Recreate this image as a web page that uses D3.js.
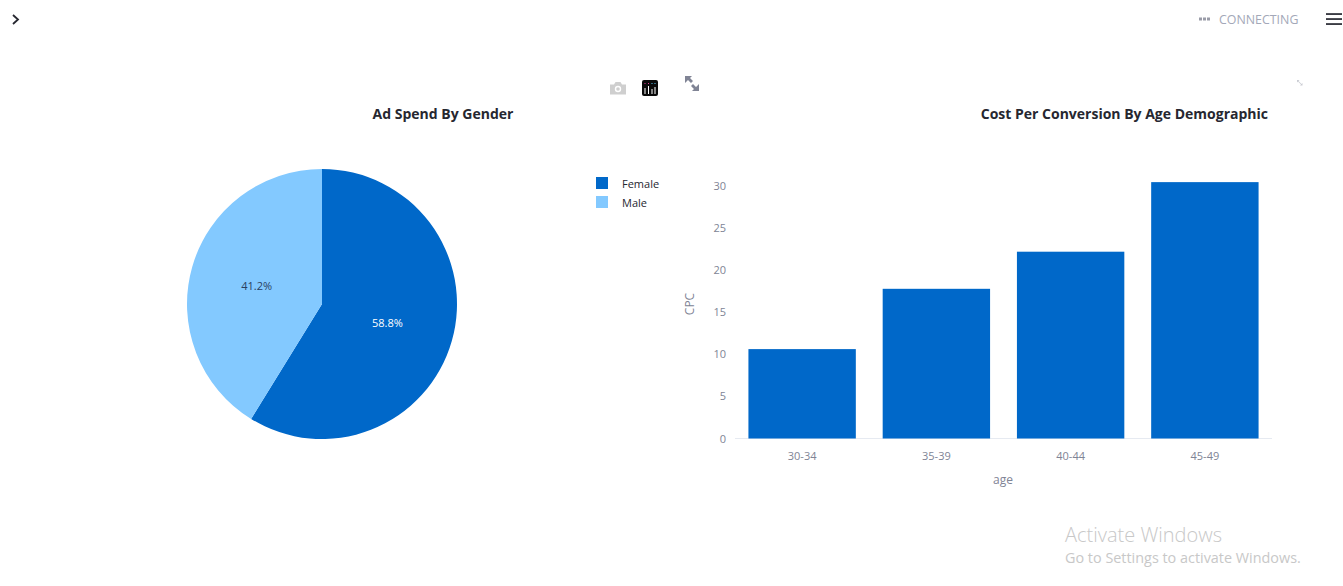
<!DOCTYPE html>
<html>
<head>
<meta charset="utf-8">
<script src="https://cdn.jsdelivr.net/npm/d3@7"></script>
<style>
  html,body{margin:0;padding:0;background:#fff;overflow:hidden}
  text{font-family:"Open Sans",sans-serif}
  .domain{display:none}
</style>
</head>
<body>
<div id="chart"></div>
<script>
// Ad spend pie + cost per conversion bars
const genders = ['Female','Male'];
const genderShare = [58.8,41.2];
const genderColors = ['#0068c9','#83c9ff'];
const ages = ['30-34','35-39','40-44','45-49'];
const cpc = [10.6,17.75,22.15,30.4];
const cpcTicks = [0,5,10,15,20,25,30];

const svg = d3.select('#chart').append('svg').attr('width',1343).attr('height',586).style('display','block');

// top bar bits
svg.append('path').attr('d','M13 15l5 4.5l-5 4.5').attr('fill','none').attr('stroke','#262730').attr('stroke-width',1.8);
[1199,1203,1207].forEach(x=>svg.append('rect').attr('x',x).attr('y',17.5).attr('width',3).attr('height',3).attr('fill','#9a9ca8'));
svg.append('text').attr('x',1219).attr('y',24).attr('font-size',12.4).attr('fill','#a3a8b8').text('CONNECTING');
[14,19,24].forEach(y=>svg.append('rect').attr('x',1326).attr('y',y-0.8).attr('width',16).attr('height',1.7).attr('fill','#262730'));

// toolbar icons
svg.append('path').attr('d','M610 84.5h4l1.5-2.5h5l1.5 2.5h4v10h-16z').attr('fill','#cfcfcf');
svg.append('circle').attr('cx',618).attr('cy',89).attr('r',3.2).attr('fill','#fff');
svg.append('circle').attr('cx',618).attr('cy',89).attr('r',1.8).attr('fill','#cfcfcf');
svg.append('rect').attr('x',642).attr('y',80).attr('width',16).attr('height',16).attr('rx',2).attr('fill','#0a0a0a');
[645,648.5,652,655].forEach((x,i)=>{
  svg.append('rect').attr('x',x-0.5).attr('y',[88,86,89,87][i]).attr('width',1).attr('height',[6,8,5,7][i]).attr('fill','#fff');
  svg.append('rect').attr('x',x-0.5).attr('y',83).attr('width',1).attr('height',1).attr('fill',['#e6399b','#e6399b','#5bc8f5','#5bc8f5'][i]);
});
svg.append('path').attr('d','M685 76h7l-2 2l3 3l-2 2l-3-3l-3 3zM699 91h-7l2-2l-3-3l2-2l3 3l3-3z').attr('fill','#808495');
svg.append('path').attr('d','M1297 80h2.5l-1 1l3 3l1-1v2.5h-2.5l1-1l-3-3l-1 1z').attr('fill','#c9cbd2');

// pie
const pieG = svg.append('g').attr('transform','translate(322,304)');
const pieData = d3.pie().sort(null)(genderShare);
const arc = d3.arc().innerRadius(0).outerRadius(135);
pieG.selectAll('path').data(pieData).enter().append('path')
  .attr('d',arc).attr('fill',(d,i)=>genderColors[i]);
const labelArc = d3.arc().innerRadius(68).outerRadius(68);
pieG.selectAll('text').data(pieData).enter().append('text')
  .attr('transform',d=>`translate(${labelArc.centroid(d)})`)
  .attr('y',1).attr('dy','0.35em').attr('text-anchor','middle').attr('font-size',11)
  .attr('fill',(d,i)=>i===0?'#fff':'#2a3f5f')
  .text((d,i)=>genderShare[i].toFixed(1)+'%');

svg.append('text').attr('x',443).attr('y',119).attr('text-anchor','middle').attr('font-size',14).attr('font-weight',700).attr('fill','#262730').text('Ad Spend By Gender');

// legend
const legend = svg.append('g').selectAll('g').data(genders).enter().append('g')
  .attr('transform',(d,i)=>`translate(596,${177+i*19})`);
legend.append('rect').attr('width',12).attr('height',12).attr('fill',(d,i)=>genderColors[i]);
legend.append('text').attr('x',26).attr('y',10.5).attr('font-size',11).attr('fill','#262730').text(d=>d);

// bars
const x = d3.scaleBand().domain(ages).range([735,1272]).paddingInner(0.2).paddingOuter(0.1);
const y = d3.scaleLinear().domain([0,30]).range([438.5,185.5]);

svg.selectAll('.gridline').data([0]).enter().append('line').attr('class','gridline')
  .attr('x1',735).attr('x2',1272).attr('y1',y(0)).attr('y2',y(0)).attr('stroke','#e6eaf1');

svg.selectAll('.bar').data(cpc).enter().append('rect').attr('class','bar')
  .attr('x',(d,i)=>x(ages[i])).attr('y',d=>y(d))
  .attr('width',x.bandwidth()).attr('height',d=>y(0)-y(d)).attr('fill','#0068c9');

const xAxis = svg.append('g').attr('transform','translate(0,438.5)').call(d3.axisBottom(x).tickSize(0).tickPadding(14));
xAxis.selectAll('text').attr('font-size',11).attr('fill','#808495').style('font-family','"Open Sans",sans-serif');
const yAxis = svg.append('g').attr('transform','translate(735,0)').call(d3.axisLeft(y).tickValues(cpcTicks).tickSize(0).tickPadding(9));
yAxis.selectAll('text').attr('font-size',11).attr('fill','#808495').style('font-family','"Open Sans",sans-serif');

svg.append('text').attr('x',1003).attr('y',484).attr('text-anchor','middle').attr('font-size',12).attr('fill','#808495').text('age');
svg.append('text').attr('transform','translate(693.5,304) rotate(-90)').attr('text-anchor','middle').attr('font-size',12).attr('fill','#808495').text('CPC');
svg.append('text').attr('x',1268).attr('y',119).attr('text-anchor','end').attr('font-size',14).attr('font-weight',700).attr('fill','#262730').text('Cost Per Conversion By Age Demographic');

// watermark
svg.append('text').attr('x',1065).attr('y',542).attr('font-size',20).attr('fill','#c8c8c8').style('font-weight',300).text('Activate Windows');
svg.append('text').attr('x',1065).attr('y',563).attr('font-size',14.4).attr('fill','#c8c8c8').text('Go to Settings to activate Windows.');
</script>
</body>
</html>
